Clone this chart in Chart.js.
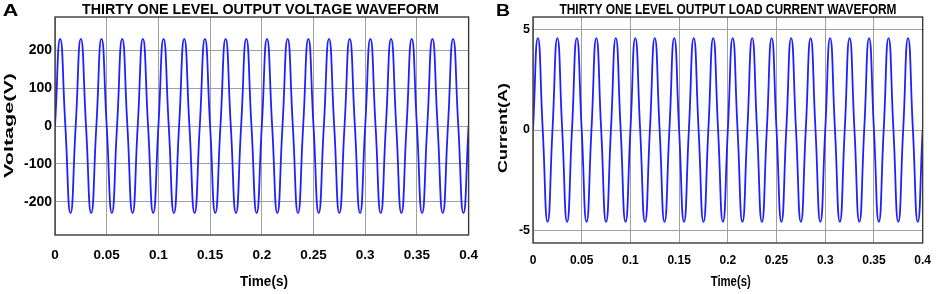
<!DOCTYPE html>
<html><head><meta charset="utf-8">
<script src="https://cdn.jsdelivr.net/npm/chart.js@4.4.1/dist/chart.umd.min.js"></script>
<style>
html,body{margin:0;padding:0;background:#fff;width:941px;height:294px;overflow:hidden}
canvas{position:absolute;top:0}
#ca{left:0}
#cb{left:480px}
</style></head><body>
<canvas id="ca" width="490" height="294"></canvas>
<canvas id="cb" width="461" height="294"></canvas>
<script>
// ---- data (peaks / zero crossings every quarter cycle) ----
const timeS = [0,0.005,0.01,0.015,0.02,0.025,0.03,0.035,0.04,0.045,
 0.05,0.055,0.06,0.065,0.07,0.075,0.08,0.085,0.09,0.095,
 0.1,0.105,0.11,0.115,0.12,0.125,0.13,0.135,0.14,0.145,
 0.15,0.155,0.16,0.165,0.17,0.175,0.18,0.185,0.19,0.195,
 0.2,0.205,0.21,0.215,0.22,0.225,0.23,0.235,0.24,0.245,
 0.25,0.255,0.26,0.265,0.27,0.275,0.28,0.285,0.29,0.295,
 0.3,0.305,0.31,0.315,0.32,0.325,0.33,0.335,0.34,0.345,
 0.35,0.355,0.36,0.365,0.37,0.375,0.38,0.385,0.39,0.395,0.4];
const voltageV = [0,230,0,-230,0,230,0,-230,0,230,0,-230,0,230,0,-230,0,230,0,-230,
 0,230,0,-230,0,230,0,-230,0,230,0,-230,0,230,0,-230,0,230,0,-230,
 0,230,0,-230,0,230,0,-230,0,230,0,-230,0,230,0,-230,0,230,0,-230,
 0,230,0,-230,0,230,0,-230,0,230,0,-230,0,230,0,-230,0,230,0,-230,0];
const currentA = [0,4.55,0,-4.55,0,4.55,0,-4.55,0,4.55,0,-4.55,0,4.55,0,-4.55,0,4.55,0,-4.55,
 0,4.55,0,-4.55,0,4.55,0,-4.55,0,4.55,0,-4.55,0,4.55,0,-4.55,0,4.55,0,-4.55,
 0,4.55,0,-4.55,0,4.55,0,-4.55,0,4.55,0,-4.55,0,4.55,0,-4.55,0,4.55,0,-4.55,
 0,4.55,0,-4.55,0,4.55,0,-4.55,0,4.55,0,-4.55,0,4.55,0,-4.55,0,4.55,0,-4.55,0];
const xTicks = [0,0.05,0.1,0.15,0.2,0.25,0.3,0.35,0.4];
const xTickLabels = ['0','0.05','0.1','0.15','0.2','0.25','0.3','0.35','0.4'];
const voltTicks = [-200,-100,0,100,200];
const currTicks = [-5,0,5];
const voltRange = [-288,288];
const currRange = [-5.6,5.6];

// ---- font detection for a narrow face ----
const SANS = '"Liberation Sans", Arial, sans-serif';
let NARROW = null;
(function(){
  const c = document.createElement('canvas').getContext('2d');
  c.font = 'bold 40px "Liberation Sans Narrow", monospace';
  const a = c.measureText('0.05 Time WAVEFORM').width;
  c.font = 'bold 40px monospace';
  const b = c.measureText('0.05 Time WAVEFORM').width;
  if (Math.abs(a - b) > 1) NARROW = '"Liberation Sans Narrow", ' + SANS;
})();

// ---- text helper: draws text centred at (cx,cy), stretched to a given length ----
function drawFitted(ctx, text, cx, cy, px, len, rot){
  ctx.save();
  ctx.font = 'bold ' + px + 'px ' + SANS;
  ctx.textBaseline = 'middle';
  ctx.textAlign = 'center';
  const w = ctx.measureText(text).width;
  ctx.translate(cx, cy);
  if (rot) ctx.rotate(rot);
  ctx.scale(len / w, 1);
  ctx.fillStyle = '#000';
  ctx.fillText(text, 0, 0);
  ctx.restore();
}
const deco = {
  id: 'deco',
  afterDraw(chart, args, o){
    const ctx = chart.ctx, a = chart.chartArea;
    ctx.save();
    ctx.strokeStyle = '#3a3a3a';
    ctx.lineWidth = 1.4;
    ctx.strokeRect(a.left, a.top, a.right - a.left, a.bottom - a.top);
    ctx.restore();
    drawFitted(ctx, o.letter, o.lx, o.ly, o.lpx, o.lw, 0);
    drawFitted(ctx, o.title, o.tx, o.ty, o.tpx, o.tw, 0);
    drawFitted(ctx, 'Time(s)', o.xtx, o.xty, o.xtpx, o.xtw, 0);
    drawFitted(ctx, o.ytitle, o.ytx, o.yty, o.ytpx, o.ytw, -Math.PI / 2);
  }
};

function makeChart(id, yData, yTicks, yRange, dims, deco_o){
  const fx = {family: dims.fam, size: dims.xfs, weight: 'bold'};
  const fy = {family: dims.fam, size: dims.yfs, weight: 'bold'};
  return new Chart(document.getElementById(id), {
    type: 'line',
    data: { datasets: [{
      data: timeS.map((t, i) => ({x: t, y: yData[i]})),
      borderColor: '#2020ff', borderWidth: 1.8, pointRadius: 0, tension: 0.55, fill: false
    }]},
    options: {
      responsive: false, animation: false, devicePixelRatio: 1,
      layout: { padding: {left: 0, top: dims.top, right: dims.right, bottom: 0} },
      plugins: { legend: {display: false}, tooltip: {enabled: false}, deco: deco_o },
      scales: {
        x: {
          type: 'linear', min: 0, max: 0.4,
          afterBuildTicks: s => { s.ticks = xTicks.map(v => ({value: v})); },
          afterFit: s => { s.height = dims.xh; },
          ticks: { color: '#000', font: fx, padding: dims.xpad, maxRotation: 0, autoSkip: false,
                   callback: (v, i) => xTickLabels[i] },
          grid: { color: '#a0a0a0', lineWidth: 1, drawTicks: false },
          border: { display: false }
        },
        y: {
          type: 'linear', min: yRange[0], max: yRange[1],
          afterBuildTicks: s => { s.ticks = yTicks.map(v => ({value: v})); },
          afterFit: s => { s.width = dims.yw; },
          ticks: { color: '#000', font: fy, padding: 3, autoSkip: false, callback: v => String(v) },
          grid: { color: '#a0a0a0', lineWidth: 1, drawTicks: false },
          border: { display: false }
        }
      }
    },
    plugins: [deco]
  });
}

makeChart('ca', voltageV, voltTicks, voltRange,
  {top: 17, right: 18, xh: 59, xpad: 12, yw: 55, fam: SANS, xfs: 13.5, yfs: 14},
  {letter: 'A', lx: 10.5, ly: 12, lpx: 16, lw: 15.6,
   title: 'THIRTY ONE LEVEL OUTPUT VOLTAGE WAVEFORM', tx: 260.5, ty: 10.5, tpx: 14, tw: 357,
   xtx: 264, xty: 282.5, xtpx: 14, xtw: 48,
   ytitle: 'Voltage(V)', ytx: 9.5, yty: 125.5, ytpx: 13.5, ytw: 105});
makeChart('cb', currentA, currTicks, currRange,
  {top: 17, right: 12, xh: 51, xpad: 10, yw: 53, fam: NARROW || SANS, xfs: NARROW ? 14 : 12, yfs: NARROW ? 14 : 12.5},
  {letter: 'B', lx: 23, ly: 11.5, lpx: 17, lw: 14,
   title: 'THIRTY ONE LEVEL OUTPUT LOAD CURRENT WAVEFORM', tx: 248, ty: 10.5, tpx: 14, tw: 337,
   xtx: 250.7, xty: 282, xtpx: 14, xtw: 40,
   ytitle: 'Current(A)', ytx: 24, yty: 128, ytpx: 12, ytw: 90});
</script>
</body></html>
